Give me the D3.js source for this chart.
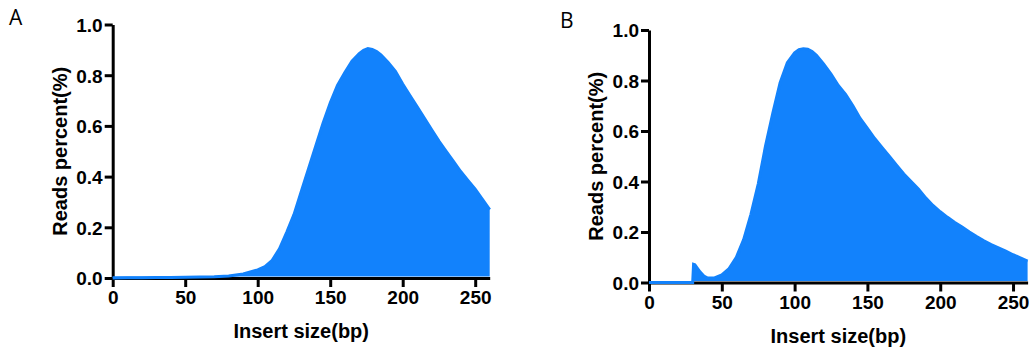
<!DOCTYPE html>
<html>
<head>
<meta charset="utf-8">
<script src="https://cdn.jsdelivr.net/npm/d3@7"></script>
<style>
  body { margin: 0; background: #fff; }
  text { font-family: "Liberation Sans", Arial, sans-serif; }
</style>
</head>
<body>
<div id="app"></div>
<script>
// insert size (bp) and reads percent
const sizesA = [0, 10, 20, 30, 40, 50, 60, 70, 80, 90, 100, 105, 110, 115, 120, 125, 130, 135, 140, 145, 150, 155, 160, 165, 170, 173, 176, 179, 182, 185, 190, 195, 200, 205, 210, 215, 220, 225, 230, 235, 240, 245, 250, 255, 260];
const valuesA = [0, 0.001, 0.001, 0.002, 0.002, 0.003, 0.004, 0.005, 0.008, 0.016, 0.032, 0.045, 0.07, 0.115, 0.18, 0.25, 0.34, 0.43, 0.52, 0.61, 0.69, 0.76, 0.81, 0.855, 0.885, 0.898, 0.905, 0.902, 0.893, 0.88, 0.85, 0.815, 0.765, 0.72, 0.675, 0.63, 0.585, 0.54, 0.5, 0.46, 0.42, 0.385, 0.35, 0.31, 0.27];

const sizesB = [0, 10, 20, 30, 30.6, 31.5, 33, 35, 38, 40, 45, 50, 55, 60, 65, 70, 75, 80, 85, 90, 95, 100, 103, 106, 109, 112, 115, 120, 125, 130, 135, 140, 145, 150, 155, 160, 165, 170, 175, 180, 185, 190, 195, 200, 205, 210, 215, 220, 225, 230, 235, 240, 245, 250, 255, 260];
const valuesB = [0, 0, 0, 0, 0.072, 0.07, 0.058, 0.042, 0.024, 0.018, 0.018, 0.03, 0.055, 0.1, 0.17, 0.27, 0.39, 0.54, 0.67, 0.79, 0.87, 0.91, 0.922, 0.926, 0.924, 0.915, 0.9, 0.865, 0.825, 0.78, 0.745, 0.7, 0.65, 0.61, 0.57, 0.535, 0.5, 0.465, 0.43, 0.4, 0.37, 0.335, 0.305, 0.28, 0.258, 0.238, 0.22, 0.2, 0.182, 0.165, 0.15, 0.137, 0.124, 0.11, 0.098, 0.085];

const xTicks = [0, 50, 100, 150, 200, 250];
const yTicks = [0, 0.2, 0.4, 0.6, 0.8, 1.0];

const fillColor = '#1282fc';

const svg = d3.select('#app')
  .append('svg')
  .attr('width', 1033)
  .attr('height', 350);

function panel(letter, sizes, values, x0, x1, y0, y1, letterX, letterY) {
  const g = svg.append('g');

  const xScale = d3.scaleLinear().domain([0, 260]).range([x0, x1]);
  const yScale = d3.scaleLinear().domain([0, 1]).range([y0, y1]);

  const data = sizes.map((s, i) => [s, values[i]]);

  // axes
  const xAxis = g.append('g')
    .attr('transform', `translate(0,${y0})`)
    .call(d3.axisBottom(xScale).tickValues(xTicks).tickSize(9).tickPadding(4).tickSizeOuter(0));
  const yAxis = g.append('g')
    .attr('transform', `translate(${x0},0)`)
    .call(d3.axisLeft(yScale).tickValues(yTicks).tickFormat(d3.format('.1f')).tickSize(8).tickPadding(2).tickSizeOuter(0));

  [xAxis, yAxis].forEach(a => {
    a.select('.domain').attr('stroke', '#000').attr('stroke-width', 3);
    a.selectAll('.tick line').attr('stroke', '#000').attr('stroke-width', 3);
    a.selectAll('.tick text')
      .attr('fill', '#000')
      .style('font-size', '19px')
      .style('font-weight', 'bold')
      .style('font-family', '"Liberation Sans", Arial, sans-serif');
  });
  yAxis.selectAll('.tick text').attr('dy', '0.36em');

  // filled distribution
  const area = d3.area()
    .x(d => xScale(d[0]))
    .y0(y0 - 1.5)
    .y1(d => yScale(d[1]));
  g.append('path')
    .datum(data)
    .attr('d', area)
    .attr('fill', fillColor);

  const line = d3.line()
    .x(d => xScale(d[0]))
    .y(d => Math.min(yScale(d[1]), y0));
  g.append('path')
    .datum(data)
    .attr('d', line)
    .attr('fill', 'none')
    .attr('stroke', fillColor)
    .attr('stroke-width', 3);

  // axis titles
  g.append('text')
    .attr('x', (x0 + x1) / 2)
    .attr('y', y0 + 60)
    .attr('text-anchor', 'middle')
    .style('font-size', '20px')
    .style('font-weight', 'bold')
    .text('Insert size(bp)');

  g.append('text')
    .attr('transform', `translate(${x0 - 46},${(y0 + y1) / 2}) rotate(-90)`)
    .attr('text-anchor', 'middle')
    .style('font-size', '20px')
    .style('font-weight', 'bold')
    .text('Reads percent(%)');

  g.append('text')
    .attr('x', letterX)
    .attr('y', letterY)
    .style('font-size', '21px')
    .style('font-family', '"Open Sans", sans-serif')
    .text(letter);
}

panel('A', sizesA, valuesA, 112.7, 489.7, 278, 24.5, 9, 25);
panel('B', sizesB, valuesB, 649, 1027.6, 282.5, 30, 560, 28);
</script>
</body>
</html>
